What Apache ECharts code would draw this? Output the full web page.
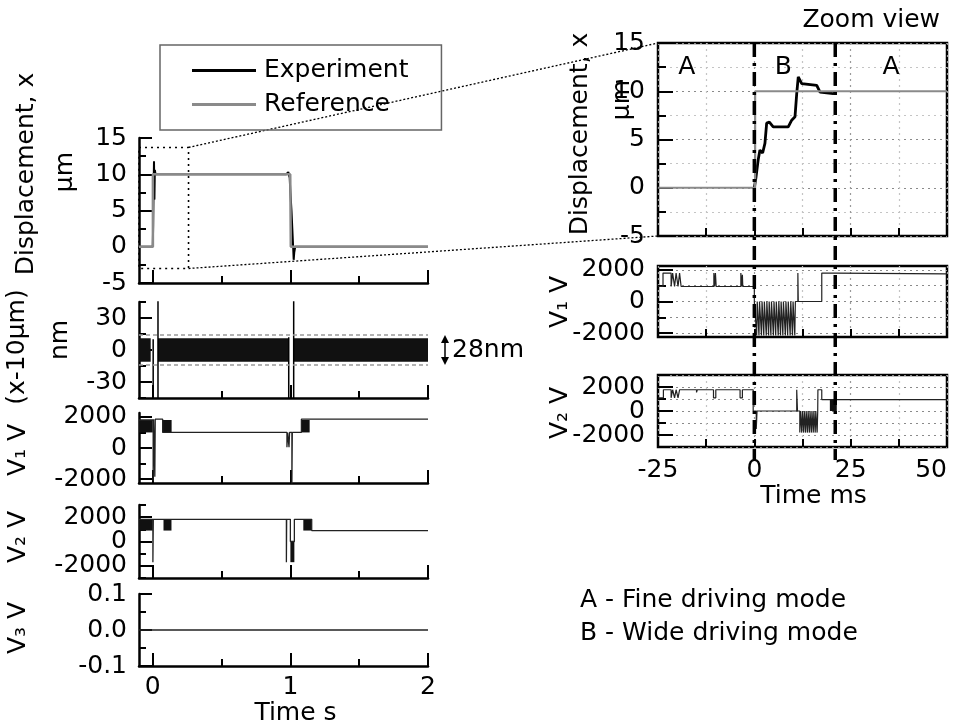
<!DOCTYPE html>
<html><head><meta charset="utf-8">
<script src="https://cdn.jsdelivr.net/npm/echarts@6/dist/echarts.min.js"></script>
<style>html,body{margin:0;padding:0;background:#fff}#c{width:960px;height:727px}</style>
</head><body><div id="c"></div><script>
// ================= DATA =================
// left column: time in s
const leftTicksX = [0, 1, 2];
const leftMinorTicksX = [0.5, 1.5];
// displacement (um) vs time (s)
const dispReference = [[-0.1,0],[0.001,0],[0.001,10],[0.999,10],[1.003,0],[2,0]];
const dispExperiment = [[-0.1,0],[0.0,0],[0.003,3],[0.006,8],[0.009,11.8],[0.012,6.5],[0.015,10.6],[0.02,10],[0.97,10],[0.985,10.3],[0.995,9.5],[1.0,7.5],[1.008,5],[1.014,2.5],[1.02,0],[1.024,-1.8],[1.028,-0.8],[1.035,0],[2,0]];
// zoom window drawn on the displacement panel (s, um)
const zoomBoxX = [-0.1, 0.26];
const zoomBoxY = [-3, 13.7];
// x - 10um (nm): noise band segments (s) and band half width (nm)
const errBandSegments = [[-0.1,-0.015],[0.038,0.985],[1.025,2]];
const errBandHalf = 11;
const errBounds = [14, -14];
const errSpikes = [
  [[0.003,-60],[0.003,10]],
  [[0.038,-60],[0.038,60]],
  [[0.988,-60],[0.988,12]],
  [[1.024,-60],[1.024,60]]
];
// V1 (V) vs time (s)
const v1Left = [[-0.1,1800],[0.003,1800],[0.003,-2150],[0.006,-2150],[0.006,1850],[0.015,1850],[0.015,-1850],[0.018,-1850],[0.018,1850],[0.072,1850],[0.072,1000],[0.975,1000],[0.975,50],[0.98,50],[0.98,1000],[0.99,1000],[0.99,50],[0.994,50],[0.994,1000],[1.011,1000],[1.011,-2300],[1.014,-2300],[1.014,1000],[1.08,1000],[1.08,1850],[2,1850]];
const v1LeftBlocks = [[-0.1,0.0,1000,1800],[0.072,0.137,1000,1800],[1.08,1.14,1000,1800]];
// V2 (V) vs time (s)
const v2Left = [[-0.1,1820],[0.001,1820],[0.001,-1700],[0.004,-1700],[0.004,1820],[0.971,1820],[0.971,-1700],[0.973,-1700],[0.973,1820],[1.0,1820],[1.0,0],[1.029,0],[1.029,1820],[1.155,1820],[1.155,900],[2,900]];
const v2LeftBlocks = [[-0.1,0.0,900,1800],[0.078,0.136,900,1800],[1.0,1.029,-1700,0],[1.094,1.155,900,1800]];
// V3 (V) vs time (s)
const v3Left = [[-0.1,0],[2,0]];

// right column: time in ms
const zoomDispReference = [[-25,0],[0.2,0],[0.2,10],[50,10]];
const zoomDispExperiment = [[0,0],[0.4,1.0],[1.0,2.9],[1.45,3.9],[2.15,3.6],[2.75,4.6],[3.2,6.7],[3.9,6.8],[4.9,6.3],[8.8,6.3],[9.7,7.0],[10.55,7.35],[11.0,9.76],[11.4,11.5],[12.3,10.8],[16.2,10.6],[17.05,9.9],[17.5,9.76],[20.5,9.76],[21.2,9.9]];
const v1RightA = [[-25,950],[-23.7,950],[-23.7,1800],[-21.6,1800],[-21.6,950],[-21.2,950],[-21.2,1800],[-20.7,1800],[-20.7,950],[-20.3,950],[-20.3,1800],[-19.8,1800],[-19.8,950],[-19.4,950],[-19.4,1800],[-19.0,1800],[-19.0,950],
  [-10.5,950],[-10.5,1800],[-10.3,1800],[-10.3,950],[-10.1,950],[-10.1,1800],[-9.9,1800],[-9.9,950],
  [-3.5,950],[-3.5,1800],[-3.3,1800],[-3.3,950],[-3.1,950],[-3.1,1700],[-3.0,1700],[-3.0,950],
  [0,950],[0,0],[0.5,0]];
const v1StripeMs = [0.6,1.2,1.85,2.45,3.1,3.7,4.3,4.95,5.55,6.2,6.8,7.4,8.05,8.65,9.3,9.9,10.5];
const v1StripeLow = -2150;
const v1RightB = [[11.0,0],[11.3,0],[11.3,1800],[11.4,1800],[11.4,0],[17.5,0],[17.5,1800],[21,1800],[21,1750],[50,1750]];
const v2RightA = [[-25,1100],[-23.6,1100],[-23.6,1770],[-21.6,1770],[-21.6,1100],[-21.2,1100],[-21.2,1770],[-20.7,1770],[-20.7,1100],[-20.3,1100],[-20.3,1770],[-19.8,1770],[-19.8,1100],[-19.4,1100],[-19.4,1770],[-15.0,1770],[-15.0,1550],[-14.8,1550],[-14.8,1770],[-10.6,1770],[-10.6,1100],[-10.0,1100],[-10.0,1770],[-3.7,1770],[-3.7,1100],[-3.1,1100],[-3.1,1770],[-0.3,1770],[-0.3,0],[0.5,0],[0.5,-1500],[0.7,-1500],[0.7,0],[11.0,0],[11.0,1770],[11.2,1770],[11.2,0],[11.8,0]];
const v2StripeMs = [11.8,12.3,12.8,13.3,13.8,14.3,14.8,15.3,15.8,16.3];
const v2StripeLow = -1800;
const v2RightB = [[16.5,0],[16.5,1770],[17.5,1770],[17.5,950],[50,950]];
const v2RightBlocks = [[19.6,21.4,0,950]];
const modeBoundsMs = [0, 21];
const modeLabels = [['A',-17.5],['B',7.5],['A',35.5]];
const modeLabelY = 12.5;

// ================= CHART =================
const FONT = "'DejaVu Sans', sans-serif";
const FS = 25;
const BLACK = '#000';
const chart = echarts.init(document.getElementById('c'), null, {renderer:'canvas'});

function pulses(times, low, width) {
  const out = [];
  times.forEach(t => { out.push([t,0],[t,low],[t+width,low],[t+width,0]); });
  return out;
}
function blocksToArea(blocks) {
  return blocks.map(b => [{coord:[b[0], b[2]]},{coord:[b[1], b[3]]}]);
}
const plain = v => String(v);

const lp = [[138,145],[302,96],[413,70],[505,73],[594,72]];
const rp = [[43,193],[266,71],[375,72]];
const grids = [];
lp.forEach(g => grids.push({left:139, width:289, top:g[0], height:g[1], containLabel:false, outerBoundsMode:'none'}));
rp.forEach(g => grids.push({left:658, width:289, top:g[0], height:g[1], containLabel:false, outerBoundsMode:'none',
  show:true, borderColor:BLACK, borderWidth:2.5, backgroundColor:'transparent'}));

const lblStyle = {color:BLACK, fontSize:FS, fontFamily:FONT, hideOverlap:false, showMinLabel:true, showMaxLabel:true};
const tickStyle = {color:BLACK, width:2};

const xAxes = [];
for (let i = 0; i < 5; i++) {
  xAxes.push({type:'value', gridIndex:i, min:-0.1, max:2, position:'bottom',
    axisLine:{show:true, onZero:false, lineStyle:{color:BLACK, width:2.5}},
    axisTick:{show:true, inside:true, length:13, customValues:leftTicksX, lineStyle:tickStyle},
    axisLabel:Object.assign({show:i===4, customValues:leftTicksX, margin:9, formatter:plain}, lblStyle),
    splitLine:{show:false},
    name:i===4?'Time s':'', nameLocation:'middle', nameGap:31,
    nameTextStyle:{color:BLACK, fontSize:FS, fontFamily:FONT, padding:[0,0,0,24]}});
}
for (let i = 0; i < 5; i++) {
  xAxes.push({type:'value', gridIndex:i, min:-0.1, max:2, position:'bottom',
    axisLine:{show:false, onZero:false},
    axisTick:{show:true, inside:true, length:7, customValues:leftMinorTicksX, lineStyle:tickStyle},
    axisLabel:{show:false}, splitLine:{show:false}});
}
for (let i = 0; i < 3; i++) {
  xAxes.push({type:'value', gridIndex:5+i, min:-25, max:50, interval:25, position:'bottom',
    axisLine:{show:false, onZero:false},
    axisTick:{show:true, inside:true, length:8, lineStyle:tickStyle},
    minorTick:{show:true, splitNumber:2, length:8, lineStyle:tickStyle},
    axisLabel:Object.assign({show:i===2, margin:11, formatter:plain, alignMaxLabel:'right'}, lblStyle),
    splitLine:{show:true, lineStyle:{color:'#9a9a9a', width:1.2, type:[2,4]}},
    minorSplitLine:{show:true, lineStyle:{color:'#c4c4c4', width:1.2, type:[2,4]}},
    name:i===2?'Time ms':'', nameLocation:'middle', nameGap:35,
    nameTextStyle:{color:BLACK, fontSize:FS, fontFamily:FONT, padding:[0,0,0,22]}});
}

function leftY(gi, min, max, major, labels, fmt) {
  return {type:'value', gridIndex:gi, min, max, position:'left',
    axisLine:{show:true, onZero:false, lineStyle:{color:BLACK, width:2.5}},
    axisTick:{show:true, inside:true, length:13, customValues:major, lineStyle:tickStyle},
    axisLabel:Object.assign({customValues:labels, margin:12, formatter:fmt || plain}, lblStyle),
    splitLine:{show:false}};
}
function overlayY(gi, min, max, ticks, len, labels, margin) {
  return {type:'value', gridIndex:gi, min, max, position:'left',
    axisLine:{show:false, onZero:false},
    axisTick:{show:true, inside:true, length:len, customValues:ticks, lineStyle:tickStyle},
    axisLabel:labels ? Object.assign({customValues:labels, margin:margin, formatter:plain}, lblStyle) : {show:false},
    splitLine:{show:false}};
}
const yAxes = [
  {type:'value', gridIndex:0, min:-5, max:15, interval:5, position:'left',
    axisLine:{show:true, onZero:false, lineStyle:{color:BLACK, width:2.5}},
    axisTick:{show:true, inside:true, length:13, lineStyle:tickStyle},
    minorTick:{show:true, splitNumber:2, length:7, lineStyle:tickStyle},
    axisLabel:Object.assign({margin:12, formatter:plain}, lblStyle), splitLine:{show:false}},
  leftY(1, -45, 45, [-30,0,30], [-30,0,30]),
  leftY(2, -2250, 2250, [-2000,0,2000], [-2000,0,2000]),
  leftY(3, -3000, 3000, [-2000,0,2000], [-2000,2000]),
  leftY(4, -0.1, 0.1, [-0.1,0,0.1], [-0.1,0,0.1], v => v.toFixed(1)),
  overlayY(1, -45, 45, [-45,-15,15,45], 7),
  overlayY(2, -2250, 2250, [-1000,1000], 7),
  overlayY(3, -3000, 3000, [-3000,-1000,1000,3000], 7, [0], 12),
  overlayY(4, -0.1, 0.1, [-0.05,0.05], 7),
  // right
  {type:'value', gridIndex:5, min:-5, max:15, interval:5, position:'left',
    axisLine:{show:false, onZero:false},
    axisTick:{show:true, inside:true, length:15, lineStyle:tickStyle},
    minorTick:{show:true, splitNumber:2, length:8, lineStyle:tickStyle},
    axisLabel:Object.assign({margin:13, formatter:plain}, lblStyle),
    splitLine:{show:true, lineStyle:{color:'#8a8a8a', width:1.2, type:[2,4]}},
    minorSplitLine:{show:true, lineStyle:{color:'#c4c4c4', width:1.2, type:[2,4]}}},
  {type:'value', gridIndex:6, min:-2250, max:2250, position:'left',
    axisLine:{show:false, onZero:false},
    axisTick:{show:true, inside:true, length:8, customValues:[-2000,-1000,0,1000,2000], lineStyle:tickStyle},
    axisLabel:Object.assign({margin:13, customValues:[-2000,0,2000], formatter:plain}, lblStyle),
    splitLine:{show:true, lineStyle:{color:'#8a8a8a', width:1.2, type:[2,4]}}},
  overlayY(6, -2250, 2250, [-2000,0,2000], 15),
  {type:'value', gridIndex:7, min:-3000, max:3000, interval:1000, position:'left',
    axisLine:{show:false, onZero:false},
    axisTick:{show:true, inside:true, length:8, lineStyle:tickStyle},
    axisLabel:Object.assign({margin:13, customValues:[-2000,2000], formatter:plain}, lblStyle),
    splitLine:{show:true, lineStyle:{color:'#8a8a8a', width:1.2, type:[2,4]}}},
  overlayY(7, -3000, 3000, [-2000,0,2000], 15, [0], 13)
];

function line(name, xi, yi, data, color, width, extra) {
  return Object.assign({type:'line', name, xAxisIndex:xi, yAxisIndex:yi, data, color,
    showSymbol:false, symbol:'none', silent:true, animation:false,
    lineStyle:{color, width}}, extra || {});
}
const series = [];
series.push(line('Experiment', 0, 0, dispExperiment, '#000', 2, {
  markArea:{silent:true, itemStyle:{color:'rgba(0,0,0,0)', borderColor:'#000', borderWidth:1.6, borderType:[2,4]},
    data:[[{coord:[zoomBoxX[0], zoomBoxY[1]]},{coord:[zoomBoxX[1], zoomBoxY[0]]}]]}}));
series.push(line('Reference', 0, 0, dispReference, '#8a8a8a', 2.5));
series.push(line('band', 1, 1, [[-0.1,0],[2,0]], '#000', 0, {
  lineStyle:{width:0, opacity:0},
  markArea:{silent:true, itemStyle:{color:'#111'},
    data:errBandSegments.map(s => [{coord:[s[0], -errBandHalf]},{coord:[s[1], errBandHalf]}])},
  markLine:{silent:true, symbol:'none', label:{show:false},
    lineStyle:{color:'#9a9a9a', width:1.6, type:[4,3]},
    data:errBounds.map(v => ({yAxis:v}))}}));
errSpikes.forEach((s, k) => series.push(line('spike'+k, 1, 1, s, '#000', 1.5)));
series.push(line('V1', 2, 2, v1Left, '#222', 1.3, {
  markArea:{silent:true, itemStyle:{color:'#111'}, data:blocksToArea(v1LeftBlocks)}}));
series.push(line('V2', 3, 3, v2Left, '#222', 1.3, {
  markArea:{silent:true, itemStyle:{color:'#111'}, data:blocksToArea(v2LeftBlocks)}}));
series.push(line('V3', 4, 4, v3Left, '#222', 1.5));
series.push(line('Experiment', 10, 9, zoomDispExperiment, '#000', 2.8));
series.push(line('Reference', 10, 9, zoomDispReference, '#8a8a8a', 2.2));
series.push(line('V1r', 11, 10, v1RightA.concat(pulses(v1StripeMs, v1StripeLow, 0.15)).concat(v1RightB), '#222', 1.2));
series.push(line('V2r', 12, 12, v2RightA.concat(pulses(v2StripeMs, v2StripeLow, 0.15)).concat(v2RightB), '#222', 1.2, {
  markArea:{silent:true, itemStyle:{color:'#111'}, data:blocksToArea(v2RightBlocks)}}));

const option = {
  animation:false,
  backgroundColor:'#fff',
  grid:grids, xAxis:xAxes, yAxis:yAxes, series,
  legend:{data:['Experiment','Reference'], orient:'vertical', left:160, top:45,
    padding:[13,33,13,32], itemGap:9, itemWidth:64, itemHeight:3, icon:'rect',
    borderColor:'#666', borderWidth:1.5, selectedMode:false,
    textStyle:{fontSize:FS, fontFamily:FONT, color:BLACK, lineHeight:24, padding:[0,0,0,3]}}
};
chart.setOption(option);

// ---------- annotations ----------
const P = (xi, yi, v) => chart.convertToPixel({xAxisIndex:xi, yAxisIndex:yi}, v);
function vtext(t, x, y) {
  return {type:'text', x, y, rotation:Math.PI/2, silent:true,
    style:{text:t, fontSize:FS, fontFamily:FONT, fill:BLACK, align:'center', verticalAlign:'middle'}};
}
function htext(t, x, y, align) {
  return {type:'text', x, y, silent:true,
    style:{text:t, fontSize:FS, fontFamily:FONT, fill:BLACK, align:align||'left', verticalAlign:'middle'}};
}
const g = [];
g.push(vtext('Displacement, x', 26, 174), vtext('µm', 65, 172));
g.push(vtext('(x-10µm)', 17, 347), vtext('nm', 60, 340));
g.push(vtext('V₁ V', 18, 450), vtext('V₂ V', 18, 537), vtext('V₃ V', 18, 628));
g.push(vtext('Displacement, x', 580, 134), vtext('µm', 622, 100));
g.push(vtext('V₁ V', 560, 302), vtext('V₂ V', 560, 413));
g.push(htext('Zoom view', 940, 20, 'right'));
g.push(htext('A - Fine driving mode', 580, 600), htext('B - Wide driving mode', 580, 633));
modeLabels.forEach(m => { const p = P(10, 9, [m[1], modeLabelY]); g.push(htext(m[0], p[0], p[1], 'center')); });
// connectors from zoom box to zoom view
const c1a = P(0, 0, [zoomBoxX[1], zoomBoxY[1]]), c1b = P(10, 9, [-25, 15]);
const c2a = P(0, 0, [zoomBoxX[1], zoomBoxY[0]]), c2b = P(10, 9, [-25, -5]);
[[c1a,c1b],[c2a,c2b]].forEach(c => g.push({type:'line', silent:true,
  shape:{x1:c[0][0], y1:c[0][1], x2:c[1][0], y2:c[1][1]},
  style:{stroke:'#000', lineWidth:1.3, lineDash:[2,2]}}));
// dash-dot mode boundaries through the right column
const yTop = P(10, 9, [0, 15])[1], yBot = P(12, 12, [0, -3000])[1] + 13;
modeBoundsMs.forEach(t => { const x = P(10, 9, [t, 0])[0];
  g.push({type:'line', silent:true, z:100, shape:{x1:x, y1:yTop, x2:x, y2:yBot},
    style:{stroke:'#000', lineWidth:3.5, lineDash:[14,6,3,6]}}); });
// 28 nm double arrow
const ax = P(1, 1, [2, 0])[0] + 17;
const ay1 = P(1, 1, [0, errBounds[0]])[1], ay2 = P(1, 1, [0, errBounds[1]])[1];
g.push({type:'line', silent:true, shape:{x1:ax, y1:ay1+4, x2:ax, y2:ay2-4}, style:{stroke:'#000', lineWidth:1.5}});
g.push({type:'polygon', silent:true, shape:{points:[[ax,ay1],[ax-4,ay1+8],[ax+4,ay1+8]]}, style:{fill:'#000'}});
g.push({type:'polygon', silent:true, shape:{points:[[ax,ay2],[ax-4,ay2-8],[ax+4,ay2-8]]}, style:{fill:'#000'}});
g.push(htext('28nm', ax + 7, (ay1 + ay2) / 2));
chart.setOption({graphic:g});
</script></body></html>
